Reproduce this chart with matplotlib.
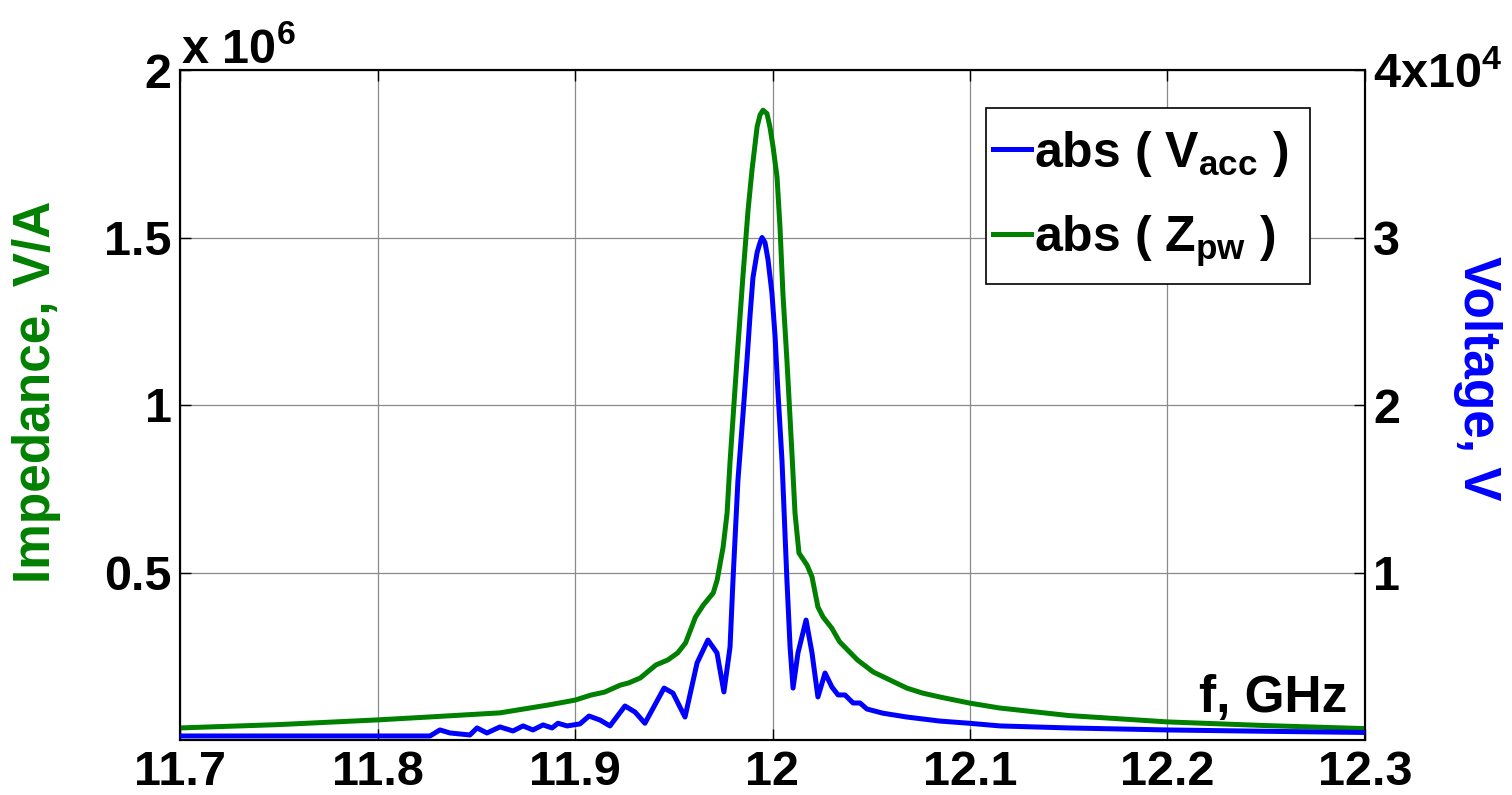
import matplotlib
matplotlib.use('Agg')
import matplotlib.pyplot as plt
from matplotlib.lines import Line2D
from matplotlib.patches import Rectangle

# frequency axis, GHz
f_z = [11.700, 11.750, 11.800, 11.827, 11.862, 11.887, 11.900, 11.908, 11.915, 11.923,
       11.927, 11.933, 11.941, 11.947, 11.952, 11.956, 11.961, 11.965, 11.970, 11.972,
       11.975, 11.977, 11.9785, 11.982, 11.985, 11.9876, 11.9896, 11.9922, 11.9937, 11.9952,
       11.9972, 11.9987, 12.0003, 12.0023, 12.0038, 12.0053, 12.0073, 12.0099, 12.0114, 12.0134,
       12.0175, 12.020, 12.023, 12.0256, 12.030, 12.034, 12.043, 12.051, 12.0595, 12.068,
       12.076, 12.085, 12.100, 12.115, 12.150, 12.200, 12.250, 12.300]
# |Z_pw|, units of 1e6 V/A
z_pw = [0.036, 0.046, 0.060, 0.069, 0.081, 0.105, 0.119, 0.134, 0.143, 0.164,
        0.170, 0.185, 0.224, 0.239, 0.260, 0.290, 0.367, 0.403, 0.439, 0.478,
        0.576, 0.677, 0.830, 1.134, 1.382, 1.580, 1.700, 1.830, 1.866, 1.880,
        1.870, 1.830, 1.770, 1.680, 1.530, 1.330, 1.134, 0.850, 0.677, 0.558,
        0.522, 0.487, 0.397, 0.367, 0.334, 0.293, 0.239, 0.203, 0.179, 0.155,
        0.140, 0.128, 0.110, 0.0955, 0.073, 0.054, 0.043, 0.034]

f_v = [11.700, 11.8266, 11.8316, 11.8367, 11.8468, 11.8504, 11.8554, 11.862, 11.8686, 11.8737,
       11.8787, 11.8838, 11.8884, 11.8914, 11.896, 11.9025, 11.9071, 11.9127, 11.9177, 11.9253,
       11.9304, 11.9354, 11.9451, 11.9496, 11.9557, 11.9618, 11.9673, 11.9719, 11.9754, 11.9785,
       11.980, 11.9825, 11.9851, 11.9871, 11.9886, 11.9901, 11.9922, 11.9937, 11.9947, 11.9962,
       11.9977, 11.9997, 12.0013, 12.0028, 12.0048, 12.0073, 12.0089, 12.0104, 12.0129, 12.017,
       12.020, 12.023, 12.0266, 12.0301, 12.0332, 12.0367, 12.0408, 12.0443, 12.0478, 12.0559,
       12.0681, 12.0848, 12.0995, 12.1152, 12.150, 12.1997, 12.250, 12.300]
# |V_acc|, units of 1e4 V
v_acc = [0.024, 0.024, 0.060, 0.042, 0.030, 0.072, 0.042, 0.078, 0.054, 0.084,
         0.060, 0.090, 0.072, 0.100, 0.084, 0.096, 0.143, 0.119, 0.084, 0.203,
         0.167, 0.100, 0.310, 0.280, 0.137, 0.460, 0.597, 0.520, 0.287, 0.555,
         0.955, 1.550, 1.950, 2.270, 2.530, 2.760, 2.910, 2.970, 3.000, 2.970,
         2.870, 2.670, 2.410, 2.070, 1.670, 0.955, 0.555, 0.310, 0.520, 0.716,
         0.520, 0.257, 0.400, 0.316, 0.269, 0.269, 0.221, 0.221, 0.185, 0.160,
         0.137, 0.113, 0.100, 0.084, 0.072, 0.060, 0.052, 0.045]

x_ticks = [11.7, 11.8, 11.9, 12.0, 12.1, 12.2, 12.3]
x_labels = ['11.7', '11.8', '11.9', '12', '12.1', '12.2', '12.3']
z_ticks = [0.5e6, 1.0e6, 1.5e6, 2.0e6]
z_labels = ['0.5', '1', '1.5', '2']
v_ticks = [1e4, 2e4, 3e4, 4e4]
v_labels = ['1', '2', '3', r'4x10$^4$']

GREEN = '#008000'
BLUE = '#0000FF'

plt.rcParams['font.family'] = ['Liberation Sans', 'DejaVu Sans']
plt.rcParams['font.weight'] = 'bold'
plt.rcParams['mathtext.fontset'] = 'custom'
plt.rcParams['mathtext.rm'] = 'Liberation Sans:bold'
plt.rcParams['mathtext.it'] = 'Liberation Sans:bold'
plt.rcParams['mathtext.bf'] = 'Liberation Sans:bold'

W, H = 1512, 795
fig = plt.figure(figsize=(W / 100, H / 100), dpi=100)
ax = fig.add_axes([180 / W, 1 - 740 / H, (1365 - 180) / W, 670 / H])
ax2 = ax.twinx()

ax.plot(f_z, [z * 1e6 for z in z_pw], color=GREEN, lw=3.6, zorder=3)
ax2.plot(f_v, [v * 1e4 for v in v_acc], color=BLUE, lw=3.6, zorder=3)

ax.set_xlim(11.7, 12.3)
ax.set_ylim(0, 2e6)
ax2.set_ylim(0, 4e4)

tick_fs = 35
ax.set_xticks(x_ticks)
ax.set_xticklabels(x_labels, fontsize=tick_fs, fontweight='bold')
ax.set_yticks(z_ticks)
ax.set_yticklabels(z_labels, fontsize=tick_fs, fontweight='bold')
ax2.set_yticks(v_ticks)
ax2.set_yticklabels(v_labels, fontsize=tick_fs, fontweight='bold')

ax.tick_params(axis='both', direction='in', length=8, width=1, top=True)
ax.tick_params(axis='x', pad=7)
ax.tick_params(axis='y', pad=6)
ax2.tick_params(axis='y', direction='in', length=8, width=1, pad=6)

ax.grid(True, color='#8a8a8a', lw=0.9)
ax.set_axisbelow(True)
for a in (ax, ax2):
    for s in a.spines.values():
        s.set_linewidth(1.5)
        s.set_color('black')

ax.set_ylabel('Impedance, V/A', color=GREEN, fontsize=37, fontweight='bold', va='center')
ax.yaxis.set_label_coords(-0.1215, 0.52)
ax2.set_ylabel('Voltage, V', color=BLUE, fontsize=37, fontweight='bold', rotation=-90,
               va='center')
ax2.yaxis.set_label_coords(1.095, 0.54)

# exponent label of the left axis
fig.text(181 / W, 1 - 63 / H, r'x 10$^6$', fontsize=35, fontweight='bold',
         ha='left', va='baseline')

ax.text(0.985, 0.042, 'f, GHz', transform=ax.transAxes, fontsize=37,
        fontweight='bold', ha='right', va='baseline')

# legend box drawn separately so the entries can sit tight against its left edge
box = Rectangle((986 / W, 1 - 284 / H), (1310 - 986) / W, 176 / H,
                transform=fig.transFigure, facecolor='white', edgecolor='black',
                lw=1.2, zorder=9)
ax2.add_artist(box)
box.set_clip_on(False)

handles = [Line2D([], [], color=BLUE, lw=3.6), Line2D([], [], color=GREEN, lw=3.6)]
labels = [r'abs ( V$_{acc}$ )', r'abs ( Z$_{pw}$ )']
leg = ax2.legend(handles, labels, loc='center left',
                 bbox_to_anchor=(988 / W, 1 - 199 / H), bbox_transform=fig.transFigure,
                 fontsize=36, frameon=False,
                 handlelength=0.75, handletextpad=0.08, labelspacing=0.7,
                 borderpad=0.1, borderaxespad=0)
leg.set_zorder(10)

fig.savefig('out.png', dpi=100, facecolor='white')
